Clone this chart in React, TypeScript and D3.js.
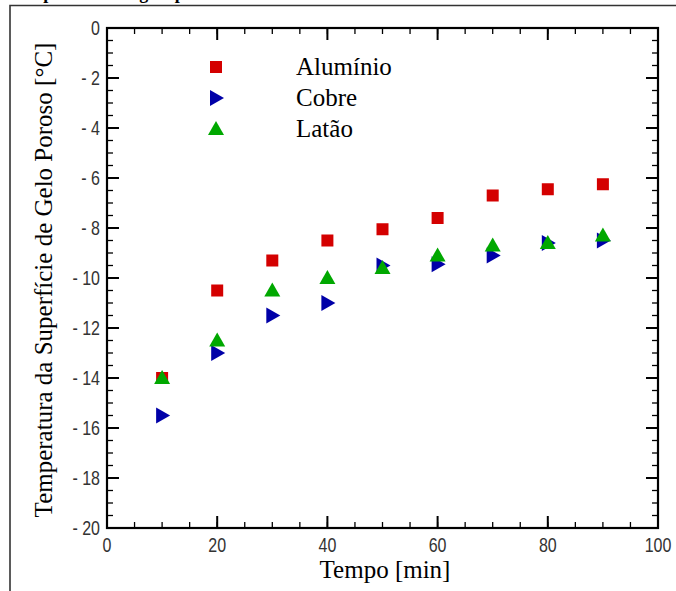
import React from "react";
import * as d3 from "d3";

const tempos = [10, 20, 30, 40, 50, 60, 70, 80, 90];
const aluminio = [-14, -10.5, -9.3, -8.5, -8.05, -7.6, -6.7, -6.45, -6.25];
const cobre = [-15.5, -13, -11.5, -11, -9.5, -9.45, -9.1, -8.6, -8.5];
const latao = [-14, -12.5, -10.5, -10, -9.6, -9.1, -8.7, -8.6, -8.3];
const seriesNames = ["Alumínio", "Cobre", "Latão"];
const xTicks = [0, 20, 40, 60, 80, 100];
const yTicks = [0, -2, -4, -6, -8, -10, -12, -14, -16, -18, -20];

const W = 676;
const H = 591;
const L = 107, R = 658, T = 28, B = 528;

const RED = "#d40000";
const BLUE = "#0000a8";
const GREEN = "#00a800";
const SANS = "'Liberation Sans', Arial, sans-serif";
const SERIF = "'Liberation Serif', 'Times New Roman', serif";

function Marker({ kind, x, y }: { kind: string; x: number; y: number }) {
  if (kind === "square") {
    return <rect x={x - 6} y={y - 6} width={12} height={12} fill={RED} />;
  }
  if (kind === "right") {
    const p = `${x - 6},${y - 8} ${x + 8},${y} ${x - 6},${y + 8}`;
    return <polygon points={p} fill={BLUE} />;
  }
  const p = `${x - 8},${y + 6} ${x},${y - 8} ${x + 8},${y + 6}`;
  return <polygon points={p} fill={GREEN} />;
}

function NarrowText({ x, y, anchor, children }: { x: number; y: number; anchor: string; children: any }) {
  return (
    <text
      transform={`translate(${x},${y}) scale(0.8,1)`}
      textAnchor={anchor}
      fontFamily={SANS}
      fontSize={20}
      fill="#333"
    >
      {children}
    </text>
  );
}

export default function App() {
  const x = d3.scaleLinear().domain([0, 100]).range([L, R]);
  const y = d3.scaleLinear().domain([-20, 0]).range([B, T]);
  const xMinor = d3.range(0, 100.001, 5);
  const yMinor = d3.range(-20, 0.001, 0.5);
  const series = [
    { name: seriesNames[0], vals: aluminio, kind: "square" },
    { name: seriesNames[1], vals: cobre, kind: "right" },
    { name: seriesNames[2], vals: latao, kind: "up" },
  ];
  return (
    <svg width={W} height={H} style={{ position: "absolute", left: 0, top: 0, background: "#fff" }}>
      <rect x={0} y={0} width={W} height={H} fill="#fff" />
      <text x={10} y={-1} fontFamily={SERIF} fontWeight="bold" fontSize={18} fill="#000">
        Temperatura do gelo poroso
      </text>
      <path d={`M10,${H + 2} V5.5 H${W + 2}`} fill="none" stroke="#333" strokeWidth={1.6} />
      {xMinor.map((v) => (
        <g key={"xm" + v}>
          <line x1={x(v)} x2={x(v)} y1={B} y2={B - 6} stroke="#000" strokeWidth={1.3} />
          <line x1={x(v)} x2={x(v)} y1={T} y2={T + 6} stroke="#000" strokeWidth={1.3} />
        </g>
      ))}
      {yMinor.map((v) => (
        <g key={"ym" + v}>
          <line x1={L} x2={L + 6} y1={y(v)} y2={y(v)} stroke="#000" strokeWidth={1.3} />
          <line x1={R} x2={R - 6} y1={y(v)} y2={y(v)} stroke="#000" strokeWidth={1.3} />
        </g>
      ))}
      {xTicks.map((v) => (
        <g key={"xt" + v}>
          <line x1={x(v)} x2={x(v)} y1={B} y2={B - 12} stroke="#000" strokeWidth={2} />
          <line x1={x(v)} x2={x(v)} y1={T} y2={T + 12} stroke="#000" strokeWidth={2} />
          <NarrowText x={x(v)} y={552} anchor="middle">
            {String(v)}
          </NarrowText>
        </g>
      ))}
      {yTicks.map((v) => (
        <g key={"yt" + v}>
          <line x1={L} x2={L + 12} y1={y(v)} y2={y(v)} stroke="#000" strokeWidth={2} />
          <line x1={R} x2={R - 12} y1={y(v)} y2={y(v)} stroke="#000" strokeWidth={2} />
          <NarrowText x={L - 7} y={y(v) + 7} anchor="end">
            {v === 0 ? "0" : "- " + Math.abs(v)}
          </NarrowText>
        </g>
      ))}
      <rect x={L} y={T} width={R - L} height={B - T} fill="none" stroke="#000" strokeWidth={2.2} />
      {series.map((s) =>
        s.vals.map((v, i) => (
          <Marker key={s.name + i} kind={s.kind} x={x(tempos[i])} y={y(v)} />
        ))
      )}
      {series.map((s, i) => (
        <g key={"lg" + s.name}>
          <Marker kind={s.kind} x={216} y={67 + i * 31} />
          <text x={296} y={75 + i * 31} fontFamily={SERIF} fontSize={25} fill="#000">
            {s.name}
          </text>
        </g>
      ))}
      <text x={385} y={578} textAnchor="middle" fontFamily={SERIF} fontSize={25} fill="#000">
        Tempo [min]
      </text>
      <text
        transform={`translate(52,${280}) rotate(-90)`}
        textAnchor="middle"
        fontFamily={SERIF}
        fontSize={25}
        fill="#000"
      >
        Temperatura da Superfície de Gelo Poroso [°C]
      </text>
    </svg>
  );
}
